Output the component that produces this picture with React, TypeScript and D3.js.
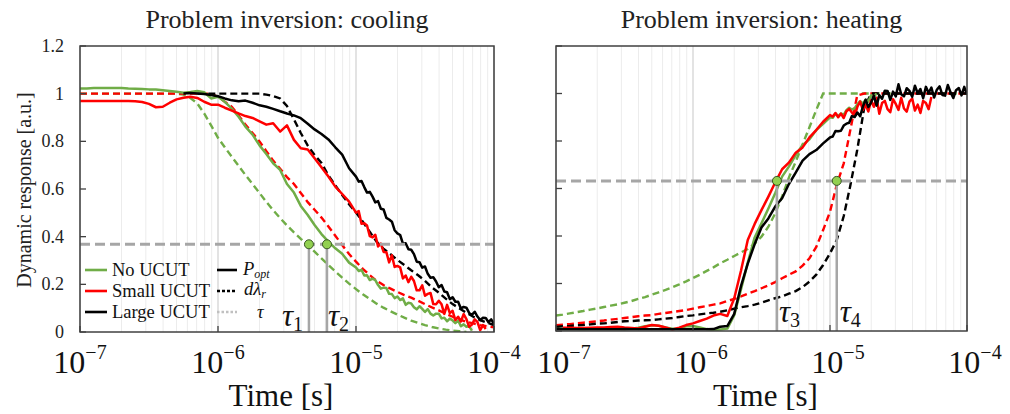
import * as d3 from 'd3'

// shared time grid (s), 20 points per decade
const timeGrid = [
  1.00e-7, 1.12e-7, 1.26e-7, 1.41e-7, 1.58e-7, 1.78e-7, 2.00e-7, 2.24e-7, 2.51e-7, 2.82e-7,
  3.16e-7, 3.55e-7, 3.98e-7, 4.47e-7, 5.01e-7, 5.62e-7, 6.31e-7, 7.08e-7, 7.94e-7, 8.91e-7,
  1.00e-6, 1.12e-6, 1.26e-6, 1.41e-6, 1.58e-6, 1.78e-6, 2.00e-6, 2.24e-6, 2.51e-6, 2.82e-6,
  3.16e-6, 3.55e-6, 3.98e-6, 4.47e-6, 5.01e-6, 5.62e-6, 6.31e-6, 7.08e-6, 7.94e-6, 8.91e-6,
  1.00e-5, 1.12e-5, 1.26e-5, 1.41e-5, 1.58e-5, 1.78e-5, 2.00e-5, 2.24e-5, 2.51e-5, 2.82e-5,
  3.16e-5, 3.55e-5, 3.98e-5, 4.47e-5, 5.01e-5, 5.62e-5, 6.31e-5, 7.08e-5, 7.94e-5, 8.91e-5,
  1.00e-4,
]
// finer grid for the noisy measured tails (s), 50 points per decade
const tailTime = [
  1.000e-5, 1.047e-5, 1.096e-5, 1.148e-5, 1.202e-5, 1.259e-5, 1.318e-5, 1.380e-5, 1.445e-5, 1.514e-5,
  1.585e-5, 1.660e-5, 1.738e-5, 1.820e-5, 1.905e-5, 1.995e-5, 2.089e-5, 2.188e-5, 2.291e-5, 2.399e-5,
  2.512e-5, 2.630e-5, 2.754e-5, 2.884e-5, 3.020e-5, 3.162e-5, 3.311e-5, 3.467e-5, 3.631e-5, 3.802e-5,
  3.981e-5, 4.169e-5, 4.365e-5, 4.571e-5, 4.786e-5, 5.012e-5, 5.248e-5, 5.495e-5, 5.754e-5, 6.026e-5,
  6.310e-5, 6.607e-5, 6.918e-5, 7.244e-5, 7.586e-5, 7.943e-5, 8.318e-5, 8.710e-5, 9.120e-5, 9.550e-5,
  1.000e-4,
]

type V = number | null
const _ = null

// ---- cooling ----
const coolNoMeas: V[] = [
  1.022, 1.022, 1.024, 1.024, 1.024, 1.024, 1.024, 1.022, 1.021, 1.020,
  1.018, 1.017, 1.014, 1.011, 1.008, 1.004, 1.007, 1.011, 1.006, 0.980,
  0.987, 0.966, 0.937, 0.903, 0.862, 0.828, 0.783, 0.747, 0.708, 0.680,
  0.621, 0.585, 0.529, 0.491, 0.449, 0.411, 0.379, 0.351, 0.328, 0.291,
]
const coolNoTail: V[] = [
  0.271, 0.256, 0.261, 0.237, 0.238, 0.218, 0.224, 0.218, 0.197, 0.182,
  0.186, 0.185, 0.160, 0.159, 0.142, 0.149, 0.134, 0.141, 0.114, 0.123,
  0.120, 0.104, 0.095, 0.108, 0.097, 0.084, 0.096, 0.077, 0.069, 0.077,
  0.077, 0.057, 0.060, 0.045, 0.056, 0.049, 0.037, 0.048, 0.024, 0.032,
  0.022, 0.025, 0.006,
]
const coolNoModel: V[] = [
  1.0, 1.0, 1.0, 1.0, 1.0, 1.0, 1.0, 1.0, 1.0, 1.0,
  1.0, 1.0, 1.0, 1.0, 1.0, 0.996, 0.982, 0.959, 0.917, 0.867,
  0.815, 0.775, 0.735, 0.697, 0.659, 0.621, 0.583, 0.546, 0.511, 0.478,
  0.447, 0.418, 0.391, 0.365, 0.337, 0.309, 0.281, 0.254, 0.228, 0.203,
  0.180, 0.158, 0.138, 0.119, 0.102, 0.087, 0.073, 0.060, 0.048, 0.038,
  0.029, 0.021, 0.015, 0.010, 0.006, 0.003, 0.0,
]
const coolSmallMeas: V[] = [
  0.969, 0.969, 0.969, 0.969, 0.969, 0.969, 0.969, 0.969, 0.968, 0.965,
  0.957, 0.943, 0.945, 0.962, 0.976, 0.983, 0.987, 0.982, 0.966, 0.954,
  0.954, 0.941, 0.929, 0.917, 0.906, 0.898, 0.884, 0.870, 0.876, 0.841,
  0.867, 0.806, 0.771, 0.766, 0.729, 0.691, 0.652, 0.610, 0.579, 0.547,
]
const coolSmallTail: V[] = [
  0.501, 0.507, 0.454, 0.456, 0.447, 0.402, 0.397, 0.408, 0.359, 0.371,
  0.336, 0.335, 0.292, 0.322, 0.273, 0.277, 0.271, 0.225, 0.237, 0.209,
  0.232, 0.214, 0.175, 0.175, 0.196, 0.152, 0.160, 0.164, 0.117, 0.116,
  0.131, 0.116, 0.076, 0.114, 0.079, 0.089, 0.050, 0.064, 0.044, 0.075,
  0.054, 0.022, 0.031, 0.053, 0.042, 0.008, 0.029, 0.013,
]
const coolSmallModel: V[] = [
  1.0, 1.0, 1.0, 1.0, 1.0, 1.0, 1.0, 1.0, 1.0, 1.0,
  1.0, 1.0, 1.0, 1.0, 1.0, 1.0, 1.0, 1.0, 1.0, 0.999,
  0.987, 0.966, 0.945, 0.909, 0.870, 0.835, 0.799, 0.759, 0.719, 0.685,
  0.650, 0.621, 0.583, 0.545, 0.513, 0.480, 0.443, 0.404, 0.365, 0.327,
  0.295, 0.265, 0.238, 0.215, 0.197, 0.182, 0.168, 0.155, 0.144, 0.131,
  0.117, 0.103, 0.091, 0.077, 0.064, 0.053, 0.043, 0.036, 0.029, 0.024,
  0.020,
]
const coolLargeMeas: V[] = [
  _, _, _, _, _, _, _, _, _, _,
  _, _, _, _, _, 1.001, 1.003, 1.001, 0.999, 0.994,
  0.989, 0.980, 0.972, 0.968, 0.971, 0.962, 0.951, 0.945, 0.936, 0.926,
  0.917, 0.909, 0.897, 0.874, 0.850, 0.831, 0.808, 0.775, 0.744, 0.687,
]
const coolLargeTail: V[] = [
  0.652, 0.631, 0.634, 0.608, 0.585, 0.588, 0.568, 0.544, 0.549, 0.517,
  0.514, 0.479, 0.472, 0.463, 0.427, 0.414, 0.407, 0.371, 0.372, 0.347,
  0.345, 0.327, 0.295, 0.293, 0.270, 0.275, 0.244, 0.228, 0.230, 0.212,
  0.188, 0.197, 0.170, 0.167, 0.138, 0.146, 0.127, 0.127, 0.099, 0.105,
  0.102, 0.080, 0.072, 0.085, 0.065, 0.050, 0.060, 0.059, 0.041, 0.053,
  0.033,
]
const coolLargeModel: V[] = [
  _, _, _, _, _, _, _, _, _, _,
  _, _, _, _, _, _, _, 1.0, 1.0, 1.0,
  1.0, 1.0, 1.0, 1.0, 1.0, 1.0, 1.0, 0.996, 0.990, 0.980,
  0.948, 0.892, 0.835, 0.782, 0.743, 0.709, 0.657, 0.615, 0.575, 0.536,
  0.501, 0.463, 0.420, 0.379, 0.350, 0.326, 0.302, 0.281, 0.259, 0.238,
  0.215, 0.187, 0.165, 0.140, 0.117, 0.099, 0.081, 0.064, 0.050, 0.039,
  0.029,
]

// ---- heating ----
const heatNoMeas: V[] = [
  0.008, 0.008, 0.009, 0.008, 0.007, 0.008, 0.009, 0.008, 0.008, 0.009,
  0.007, 0.010, 0.014, 0.020, 0.024, 0.022, 0.015, 0.010, 0.011, 0.020,
  0.021, 0.015, 0.008, 0.004, 0.006, 0.010, 0.067, 0.175, 0.288, 0.394,
  0.453, 0.516, 0.580, 0.650, 0.692, 0.741, 0.783, 0.807, 0.846, 0.872,
]
const heatNoTail: V[] = [
  0.900, 0.898, 0.915, 0.905, 0.916, 0.910, 0.930, 0.940, 0.932, 0.938,
  0.955, 0.968, 0.957, 0.974, 0.966, 0.992, 0.986, 1.000,
]
const heatNoModel: V[] = [
  0.065, 0.069, 0.074, 0.079, 0.084, 0.090, 0.095, 0.101, 0.107, 0.112,
  0.119, 0.126, 0.135, 0.143, 0.153, 0.163, 0.173, 0.184, 0.196, 0.209,
  0.223, 0.237, 0.253, 0.268, 0.285, 0.300, 0.316, 0.331, 0.345, 0.368,
  0.397, 0.439, 0.495, 0.566, 0.646, 0.713, 0.786, 0.858, 0.931, 1.0,
  1.0, 1.0, 1.0, 1.0, 1.0, 1.0, 1.0, 1.0, 1.0, 1.0,
  1.0, 1.0, 1.0, 1.0, 1.0, 1.0, 1.0, 1.0, 1.0, 1.0,
  1.0,
]
const heatSmallMeas: V[] = [
  _, 0.014, 0.014, 0.013, 0.013, 0.014, 0.015, 0.015, 0.017, 0.018,
  0.015, 0.013, 0.011, 0.018, 0.025, 0.022, 0.015, 0.006, 0.014, 0.025,
  0.032, 0.042, 0.052, 0.065, 0.072, 0.063, 0.138, 0.254, 0.383, 0.451,
  0.509, 0.566, 0.625, 0.681, 0.709, 0.751, 0.773, 0.815, 0.846, 0.881,
]
const heatSmallTail: V[] = [
  0.909, 0.903, 0.918, 0.900, 0.915, 0.897, 0.925, 0.935, 0.920, 0.905,
  0.945, 0.966, 0.931, 0.953, 0.924, 0.972, 0.944, 0.982, 0.915, 0.960,
  0.969, 0.934, 0.921, 0.976, 0.956, 0.931, 0.982, 0.937, 0.924, 0.966,
  0.979, 0.928, 0.953, 0.918, 0.969, 0.960, 0.934, 0.985,
]
const heatSmallModel: V[] = [
  0.024, 0.027, 0.029, 0.032, 0.035, 0.038, 0.041, 0.044, 0.048, 0.051,
  0.055, 0.058, 0.062, 0.065, 0.067, 0.072, 0.076, 0.080, 0.084, 0.088,
  0.094, 0.100, 0.105, 0.111, 0.116, 0.126, 0.135, 0.146, 0.157, 0.168,
  0.180, 0.192, 0.206, 0.222, 0.237, 0.251, 0.275, 0.306, 0.354, 0.425,
  0.502, 0.615, 0.706, 0.849, 0.992, 1.0, 1.0, 1.0, 1.0, 1.0,
  1.0, 1.0, 1.0, 1.0, 1.0, 1.0, 1.0, 1.0, 1.0, 1.0,
  1.0,
]
const heatLargeMeas: V[] = [
  0.007, 0.007, 0.007, 0.007, 0.007, 0.007, 0.007, 0.007, 0.007, 0.007,
  0.008, 0.007, 0.007, 0.007, 0.007, 0.007, 0.007, 0.007, 0.007, 0.007,
  0.007, 0.007, 0.007, 0.008, 0.018, 0.021, 0.072, 0.189, 0.284, 0.366,
  0.436, 0.474, 0.524, 0.559, 0.619, 0.667, 0.717, 0.745, 0.762, 0.790,
]
const heatLargeTail: V[] = [
  0.815, 0.819, 0.842, 0.841, 0.843, 0.865, 0.873, 0.877, 0.905, 0.901,
  0.920, 0.904, 0.945, 0.974, 0.943, 0.962, 0.991, 0.949, 0.993, 0.978,
  1.012, 1.011, 0.973, 1.008, 0.988, 1.039, 0.997, 0.988, 1.022, 1.011,
  0.986, 1.033, 1.000, 1.019, 0.980, 1.028, 1.002, 1.025, 0.983, 1.016,
  1.030, 0.994, 0.991, 1.036, 1.005, 0.981, 1.014, 1.023, 0.992, 1.028,
  0.995,
]
const heatLargeModel: V[] = [
  0.017, 0.020, 0.021, 0.024, 0.025, 0.028, 0.031, 0.032, 0.035, 0.038,
  0.041, 0.042, 0.044, 0.045, 0.046, 0.049, 0.052, 0.055, 0.059, 0.063,
  0.066, 0.070, 0.074, 0.077, 0.081, 0.087, 0.094, 0.100, 0.105, 0.111,
  0.119, 0.129, 0.138, 0.146, 0.157, 0.168, 0.185, 0.208, 0.237, 0.278,
  0.327, 0.383, 0.484, 0.615, 0.762, 0.942, 1.0, 1.0, 1.0, 1.0,
  1.0, 1.0, 1.0, 1.0, 1.0, 1.0, 1.0, 1.0, 1.0, 1.0,
  1.0,
]

const yTicks = [0, 0.2, 0.4, 0.6, 0.8, 1, 1.2]
const yTickLabels = ['0', '0.2', '0.4', '0.6', '0.8', '1', '1.2']
const decades = [1e-7, 1e-6, 1e-5, 1e-4]
const decadeExp = ['−7', '−6', '−5', '−4']

const tauCool = [4.56e-6, 6.16e-6]
const tauHeat = [4.10e-6, 1.12e-5]
const levelCool = 0.368
const levelHeat = 0.632

const GREEN = '#70ad47'
const RED = '#ff0000'
const BLACK = '#000000'
const GRAY = '#a6a6a6'
const FONT = "'Liberation Serif', 'Times New Roman', serif"

type Series = { values: V[]; tail?: V[]; color: string; model: boolean }
type Pt = [number, V]

function toPoints(s: Series): Pt[] {
  const pts: Pt[] = s.values.map((v, i) => [timeGrid[i], v] as Pt)
  if (s.tail) s.tail.forEach((v, j) => pts.push([tailTime[j], v]))
  return pts
}

function Panel(props: {
  id: string
  x0: number
  x1: number
  top: number
  bottom: number
  title: string
  series: Series[]
  level: number
  taus: number[]
  tauNames: string[]
  tauLabelDx: number[]
  tauBase: number
  showYLabels: boolean
  labelShift: number
  axisTitleDx: number
}) {
  const { id, x0, x1, top, bottom, series, level, taus } = props
  const x = d3.scaleLog().domain([1e-7, 1e-4]).range([x0, x1])
  const y = d3.scaleLinear().domain([0, 1.2]).range([bottom, top])
  const gridTicks = x.ticks()
  const line = d3
    .line<Pt>()
    .defined((d) => d[1] != null)
    .x((d) => x(d[0]))
    .y((d) => y(d[1] as number))
  const cx = (x0 + x1) / 2

  return (
    <g>
      <defs>
        <clipPath id={id}>
          <rect x={x0} y={top} width={x1 - x0} height={bottom - top} />
        </clipPath>
      </defs>
      {gridTicks.map((t, i) => {
        const major = Math.abs(Math.log10(t) - Math.round(Math.log10(t))) < 1e-6
        return (
          <line key={i} x1={x(t)} x2={x(t)} y1={top} y2={bottom}
            stroke={major ? '#d4d4d4' : '#ececec'} strokeWidth={major ? 1.3 : 1} />
        )
      })}
      <g clipPath={`url(#${id})`}>
        {series.filter((s) => s.model).map((s, i) => (
          <path key={'m' + i} d={line(toPoints(s)) ?? ''} fill="none" stroke={s.color}
            strokeWidth={2.4} strokeDasharray="7 4" />
        ))}
        {series.filter((s) => !s.model).map((s, i) => (
          <path key={'s' + i} d={line(toPoints(s)) ?? ''} fill="none" stroke={s.color}
            strokeWidth={2.5} strokeLinejoin="round" />
        ))}
        <line x1={x0} x2={x1} y1={y(level)} y2={y(level)} stroke={GRAY}
          strokeWidth={3} strokeDasharray="10 5" />
        {taus.map((t, i) => (
          <line key={i} x1={x(t)} x2={x(t)} y1={y(level)} y2={bottom} stroke={GRAY} strokeWidth={2.5} />
        ))}
      </g>
      {taus.map((t, i) => (
        <circle key={i} cx={x(t)} cy={y(level)} r={4.5} fill="#92d050" stroke="#385723" strokeWidth={1} />
      ))}
      {taus.map((t, i) => (
        <text key={i} x={x(t) + props.tauLabelDx[i]} y={props.tauBase} fontFamily={FONT}
          fontStyle="italic" fontSize={31} fill="#111">
          τ<tspan fontSize={20} fontStyle="normal" dy={5}>{props.tauNames[i]}</tspan>
        </text>
      ))}
      <rect x={x0} y={top} width={x1 - x0} height={bottom - top} fill="none" stroke="#404040" strokeWidth={1.5} />
      {yTicks.map((v, i) => (
        <line key={i} x1={x0} x2={x0 + 6} y1={y(v)} y2={y(v)} stroke="#404040" strokeWidth={1.3} />
      ))}
      {decades.map((d, i) => (
        <line key={i} x1={x(d)} x2={x(d)} y1={bottom} y2={bottom - 6} stroke="#404040" strokeWidth={1.3} />
      ))}
      {props.showYLabels &&
        yTicks.map((v, i) => (
          <text key={i} x={x0 - 16} y={y(v) + 6} textAnchor="end" fontFamily={FONT} fontSize={18} fill="#222">
            {yTickLabels[i]}
          </text>
        ))}
      {decades.map((d, i) => (
        <text key={i} x={x(d) + props.labelShift} y={373} textAnchor="middle" fontFamily={FONT} fontSize={32} fill="#111">
          10<tspan fontSize={20} dy={-14}>{decadeExp[i]}</tspan>
        </text>
      ))}
      <text x={cx} y={28} textAnchor="middle" fontFamily={FONT} fontSize={26} fill="#222">
        {props.title}
      </text>
      <text x={cx + props.axisTitleDx} y={406} textAnchor="middle" fontFamily={FONT} fontSize={31} fill="#111">
        Time [s]
      </text>
    </g>
  )
}

function Legend() {
  const rows = [
    { y: 270, color: GREEN, label: 'No UCUT' },
    { y: 291, color: RED, label: 'Small UCUT' },
    { y: 312, color: BLACK, label: 'Large UCUT' },
  ]
  return (
    <g fontFamily={FONT} fontSize={18.5} fill="#111">
      {rows.map((r, i) => (
        <g key={i}>
          <line x1={85} x2={107} y1={r.y} y2={r.y} stroke={r.color} strokeWidth={2.6} />
          <text x={112} y={r.y + 6}>{r.label}</text>
        </g>
      ))}
      <line x1={217} x2={237} y1={270} y2={270} stroke={BLACK} strokeWidth={2.6} />
      <text x={243} y={275} fontStyle="italic">
        P<tspan fontSize={12} dy={3}>opt</tspan>
      </text>
      <line x1={217} x2={237} y1={291} y2={291} stroke={BLACK} strokeWidth={2.6} strokeDasharray="3 2" />
      <text x={244} y={295} fontStyle="italic">
        dλ<tspan fontSize={12} dy={3}>r</tspan>
      </text>
      <line x1={217} x2={237} y1={312} y2={312} stroke="#c0c0c0" strokeWidth={2.6} strokeDasharray="2.5 2" />
      <text x={257} y={318} fontStyle="italic">τ</text>
    </g>
  )
}

export default function App() {
  const cool: Series[] = [
    { values: coolNoModel, color: GREEN, model: true },
    { values: coolSmallModel, color: RED, model: true },
    { values: coolLargeModel, color: BLACK, model: true },
    { values: coolNoMeas, tail: coolNoTail, color: GREEN, model: false },
    { values: coolSmallMeas, tail: coolSmallTail, color: RED, model: false },
    { values: coolLargeMeas, tail: coolLargeTail, color: BLACK, model: false },
  ]
  const heat: Series[] = [
    { values: heatNoModel, color: GREEN, model: true },
    { values: heatSmallModel, color: RED, model: true },
    { values: heatLargeModel, color: BLACK, model: true },
    { values: heatNoMeas, tail: heatNoTail, color: GREEN, model: false },
    { values: heatSmallMeas, tail: heatSmallTail, color: RED, model: false },
    { values: heatLargeMeas, tail: heatLargeTail, color: BLACK, model: false },
  ]
  return (
    <svg width={1010} height={414} style={{ position: 'absolute', left: 0, top: 0, background: '#fff' }}>
      <text transform="translate(31,190) rotate(-90)" textAnchor="middle" fontFamily={FONT} fontSize={20} fill="#222">
        Dynamic response [a.u.]
      </text>
      <Panel id="clip-cool" x0={80} x1={494} top={46} bottom={332} title="Problem inversion: cooling"
        series={cool} level={levelCool} taus={tauCool} tauNames={['1', '2']} tauLabelDx={[-27, 1]}
        tauBase={326} showYLabels labelShift={0} axisTitleDx={-6} />
      <Panel id="clip-heat" x0={556} x1={967} top={46} bottom={331} title="Problem inversion: heating"
        series={heat} level={levelHeat} taus={tauHeat} tauNames={['3', '4']} tauLabelDx={[2, 3]}
        tauBase={322} showYLabels={false} labelShift={8} axisTitleDx={4} />
      <Legend />
    </svg>
  )
}
